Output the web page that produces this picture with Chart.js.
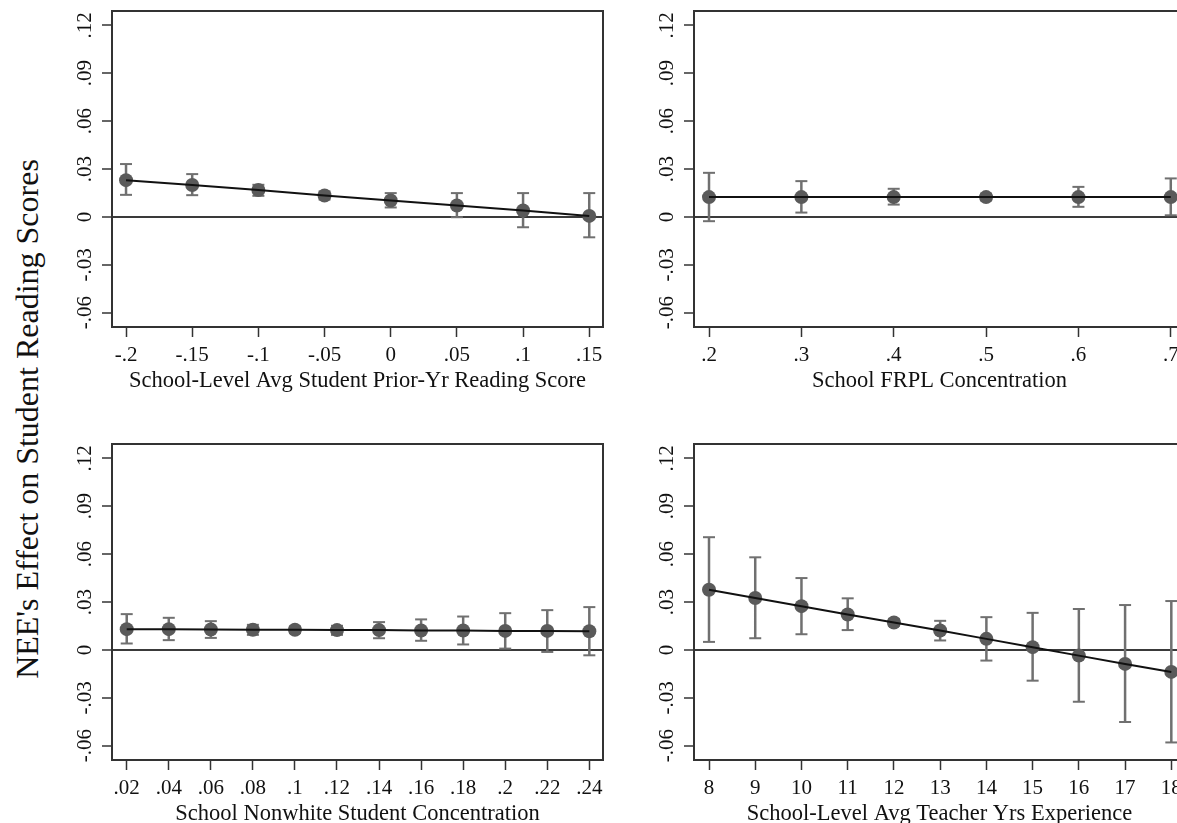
<!DOCTYPE html>
<html>
<head>
<meta charset="utf-8">
<script src="https://cdn.jsdelivr.net/npm/chart.js@4.4.1/dist/chart.umd.min.js"></script>
<style>
  html, body { margin: 0; padding: 0; background: #fff; }
  body { width: 1177px; height: 823px; overflow: hidden; position: relative; }
  canvas { position: absolute; }
  #yTitle {
    position: absolute; left: 27px; top: 419px;
    transform: translate(-50%, -50%) rotate(-90deg);
    white-space: nowrap; line-height: 1;
    font-family: 'Liberation Serif', 'Times New Roman', serif;
    font-size: 32px; color: #111;
  }
</style>
</head>
<body>
<div id="yTitle">NEE's Effect on Student Reading Scores</div>
<canvas id="priorScoreCanvas" width="620" height="400" style="left:0;top:0"></canvas>
<canvas id="frplCanvas" width="600" height="400" style="left:600px;top:0"></canvas>
<canvas id="nonwhiteCanvas" width="620" height="400" style="left:0;top:433px"></canvas>
<canvas id="teacherExpCanvas" width="600" height="400" style="left:600px;top:433px"></canvas>
<script>
// shared y ticks
const yTicks = [-0.06, -0.03, 0, 0.03, 0.06, 0.09, 0.12];

// School-level avg student prior-yr reading score
const priorScoreX = [-0.2, -0.15, -0.1, -0.05, 0, 0.05, 0.1, 0.15];
const priorScoreEst = [0.0230, 0.0200, 0.0168, 0.0134, 0.0103, 0.0071, 0.0040, 0.0006];
const priorScoreLo = [0.0138, 0.0136, 0.0132, 0.0109, 0.0059, -0.0002, -0.0065, -0.0128];
const priorScoreHi = [0.0331, 0.0268, 0.0201, 0.0159, 0.0149, 0.0149, 0.0149, 0.0149];

// School FRPL concentration
const frplX = [0.2, 0.3, 0.4, 0.5, 0.6, 0.7];
const frplEst = [0.0124, 0.0124, 0.0124, 0.0124, 0.0124, 0.0124];
const frplLo = [-0.0027, 0.0027, 0.0077, 0.0103, 0.0063, 0.0010];
const frplHi = [0.0276, 0.0224, 0.0176, 0.0145, 0.0188, 0.0241];

// School nonwhite student concentration
const nonwhiteX = [0.02, 0.04, 0.06, 0.08, 0.1, 0.12, 0.14, 0.16, 0.18, 0.2, 0.22, 0.24];
const nonwhiteEst = [0.0130, 0.0130, 0.0128, 0.0126, 0.0126, 0.0124, 0.0124, 0.0121, 0.0121, 0.0119, 0.0119, 0.0117];
const nonwhiteLo = [0.0040, 0.0061, 0.0075, 0.0094, 0.0105, 0.0094, 0.0073, 0.0057, 0.0034, 0.0008, -0.0013, -0.0034];
const nonwhiteHi = [0.0224, 0.0201, 0.0180, 0.0157, 0.0147, 0.0151, 0.0174, 0.0191, 0.0209, 0.0230, 0.0249, 0.0268];

// School-level avg teacher yrs experience
const teacherExpX = [8, 9, 10, 11, 12, 13, 14, 15, 16, 17, 18];
const teacherExpEst = [0.0377, 0.0325, 0.0274, 0.0222, 0.0172, 0.0121, 0.0069, 0.0017, -0.0036, -0.0088, -0.0138];
const teacherExpLo = [0.0050, 0.0073, 0.0098, 0.0124, 0.0151, 0.0059, -0.0067, -0.0193, -0.0325, -0.0452, -0.0580];
const teacherExpHi = [0.0706, 0.0580, 0.0450, 0.0323, 0.0193, 0.0182, 0.0205, 0.0232, 0.0256, 0.0281, 0.0306];

const fontFamily = "'Liberation Serif', 'Times New Roman', serif";
const axisColor = '#333';
const markerColor = '#5a5a5a';
const ciColor = '#707070';

// Stata style labels: .05, -.2, 0
function stataLabel(v) {
  if (v === 0) return '0';
  const s = String(Number(v.toFixed(4)));
  return s.replace(/^(-?)0\./, '$1.');
}

// draws the plot box round the chart area
const frameBox = {
  id: 'frameBox',
  afterDatasetsDraw(chart) {
    const a = chart.chartArea;
    const ctx = chart.ctx;
    ctx.save();
    ctx.strokeStyle = axisColor;
    ctx.lineWidth = 2;
    ctx.strokeRect(a.left, a.top, a.right - a.left, a.bottom - a.top);
    ctx.restore();
  }
};

function makePanel(canvasId, xs, est, lo, hi, xTicks, xTitle, xMin, xMax, yAxisWidth, padRight) {
  const points = xs.map((x, i) => ({x: x, y: est[i]}));
  // whiskers: pairs of points broken by gaps
  const whiskers = [];
  const caps = [];
  xs.forEach((x, i) => {
    whiskers.push({x: x, y: lo[i]}, {x: x, y: hi[i]}, {x: x, y: null});
    caps.push({x: x, y: lo[i]}, {x: x, y: hi[i]});
  });

  return new Chart(document.getElementById(canvasId), {
    type: 'scatter',
    data: {
      datasets: [
        {
          data: points,
          showLine: true,
          borderColor: '#111',
          borderWidth: 2,
          pointRadius: 0,
          order: 0
        },
        {
          data: points,
          pointRadius: 7,
          pointBorderWidth: 0,
          backgroundColor: markerColor,
          order: 1
        },
        {
          data: whiskers,
          showLine: true,
          spanGaps: false,
          borderColor: ciColor,
          borderWidth: 2.5,
          pointRadius: 0,
          order: 2
        },
        {
          data: caps,
          pointStyle: 'line',
          pointRadius: 6,
          borderColor: ciColor,
          borderWidth: 2,
          order: 3
        }
      ]
    },
    options: {
      responsive: false,
      animation: false,
      events: [],
      layout: { padding: { left: 0, top: 11, right: padRight, bottom: 0 } },
      plugins: { legend: { display: false }, tooltip: { enabled: false } },
      scales: {
        x: {
          type: 'linear',
          min: xMin,
          max: xMax,
          afterBuildTicks: s => { s.ticks = xTicks.map(v => ({value: v})); },
          afterFit: s => { s.height = 73; s.paddingLeft = 0; s.paddingRight = 0; },
          border: { display: false },
          grid: { drawOnChartArea: false, tickLength: 10, tickColor: axisColor, tickWidth: 1.5 },
          ticks: {
            autoSkip: false, maxRotation: 0, padding: 6, color: '#111',
            font: { family: fontFamily, size: 21 },
            callback: v => stataLabel(v)
          },
          title: {
            display: true, text: xTitle, color: '#111',
            font: { family: fontFamily, size: 22.5 },
            padding: { top: 0, bottom: 5 }
          }
        },
        y: {
          min: -0.069,
          max: 0.129,
          afterBuildTicks: s => { s.ticks = yTicks.map(v => ({value: v})); },
          afterFit: s => { s.width = yAxisWidth; s.paddingTop = 0; s.paddingBottom = 0; },
          border: { display: false },
          grid: {
            color: c => (c.tick && c.tick.value === 0) ? '#3a3a3a' : 'rgba(0,0,0,0)',
            lineWidth: 2,
            tickLength: 10, tickColor: axisColor, tickWidth: 1.5
          },
          ticks: {
            autoSkip: false, minRotation: 90, maxRotation: 90, crossAlign: 'center',
            padding: 0, color: '#111',
            font: { family: fontFamily, size: 21 },
            callback: v => stataLabel(v)
          }
        }
      }
    },
    plugins: [frameBox]
  });
}

makePanel('priorScoreCanvas', priorScoreX, priorScoreEst, priorScoreLo, priorScoreHi, priorScoreX,
  'School-Level Avg Student Prior-Yr Reading Score', -0.2106, 0.1604, 112, 17);
makePanel('frplCanvas', frplX, frplEst, frplLo, frplHi, frplX,
  'School FRPL Concentration', 0.18375, 0.7154, 94, 15);
makePanel('nonwhiteCanvas', nonwhiteX, nonwhiteEst, nonwhiteLo, nonwhiteHi, nonwhiteX,
  'School Nonwhite Student Concentration', 0.013, 0.2465, 112, 17);
makePanel('teacherExpCanvas', teacherExpX, teacherExpEst, teacherExpLo, teacherExpHi, teacherExpX,
  'School-Level Avg Teacher Yrs Experience', 7.6755, 18.296, 94, 15);
</script>
</body>
</html>
